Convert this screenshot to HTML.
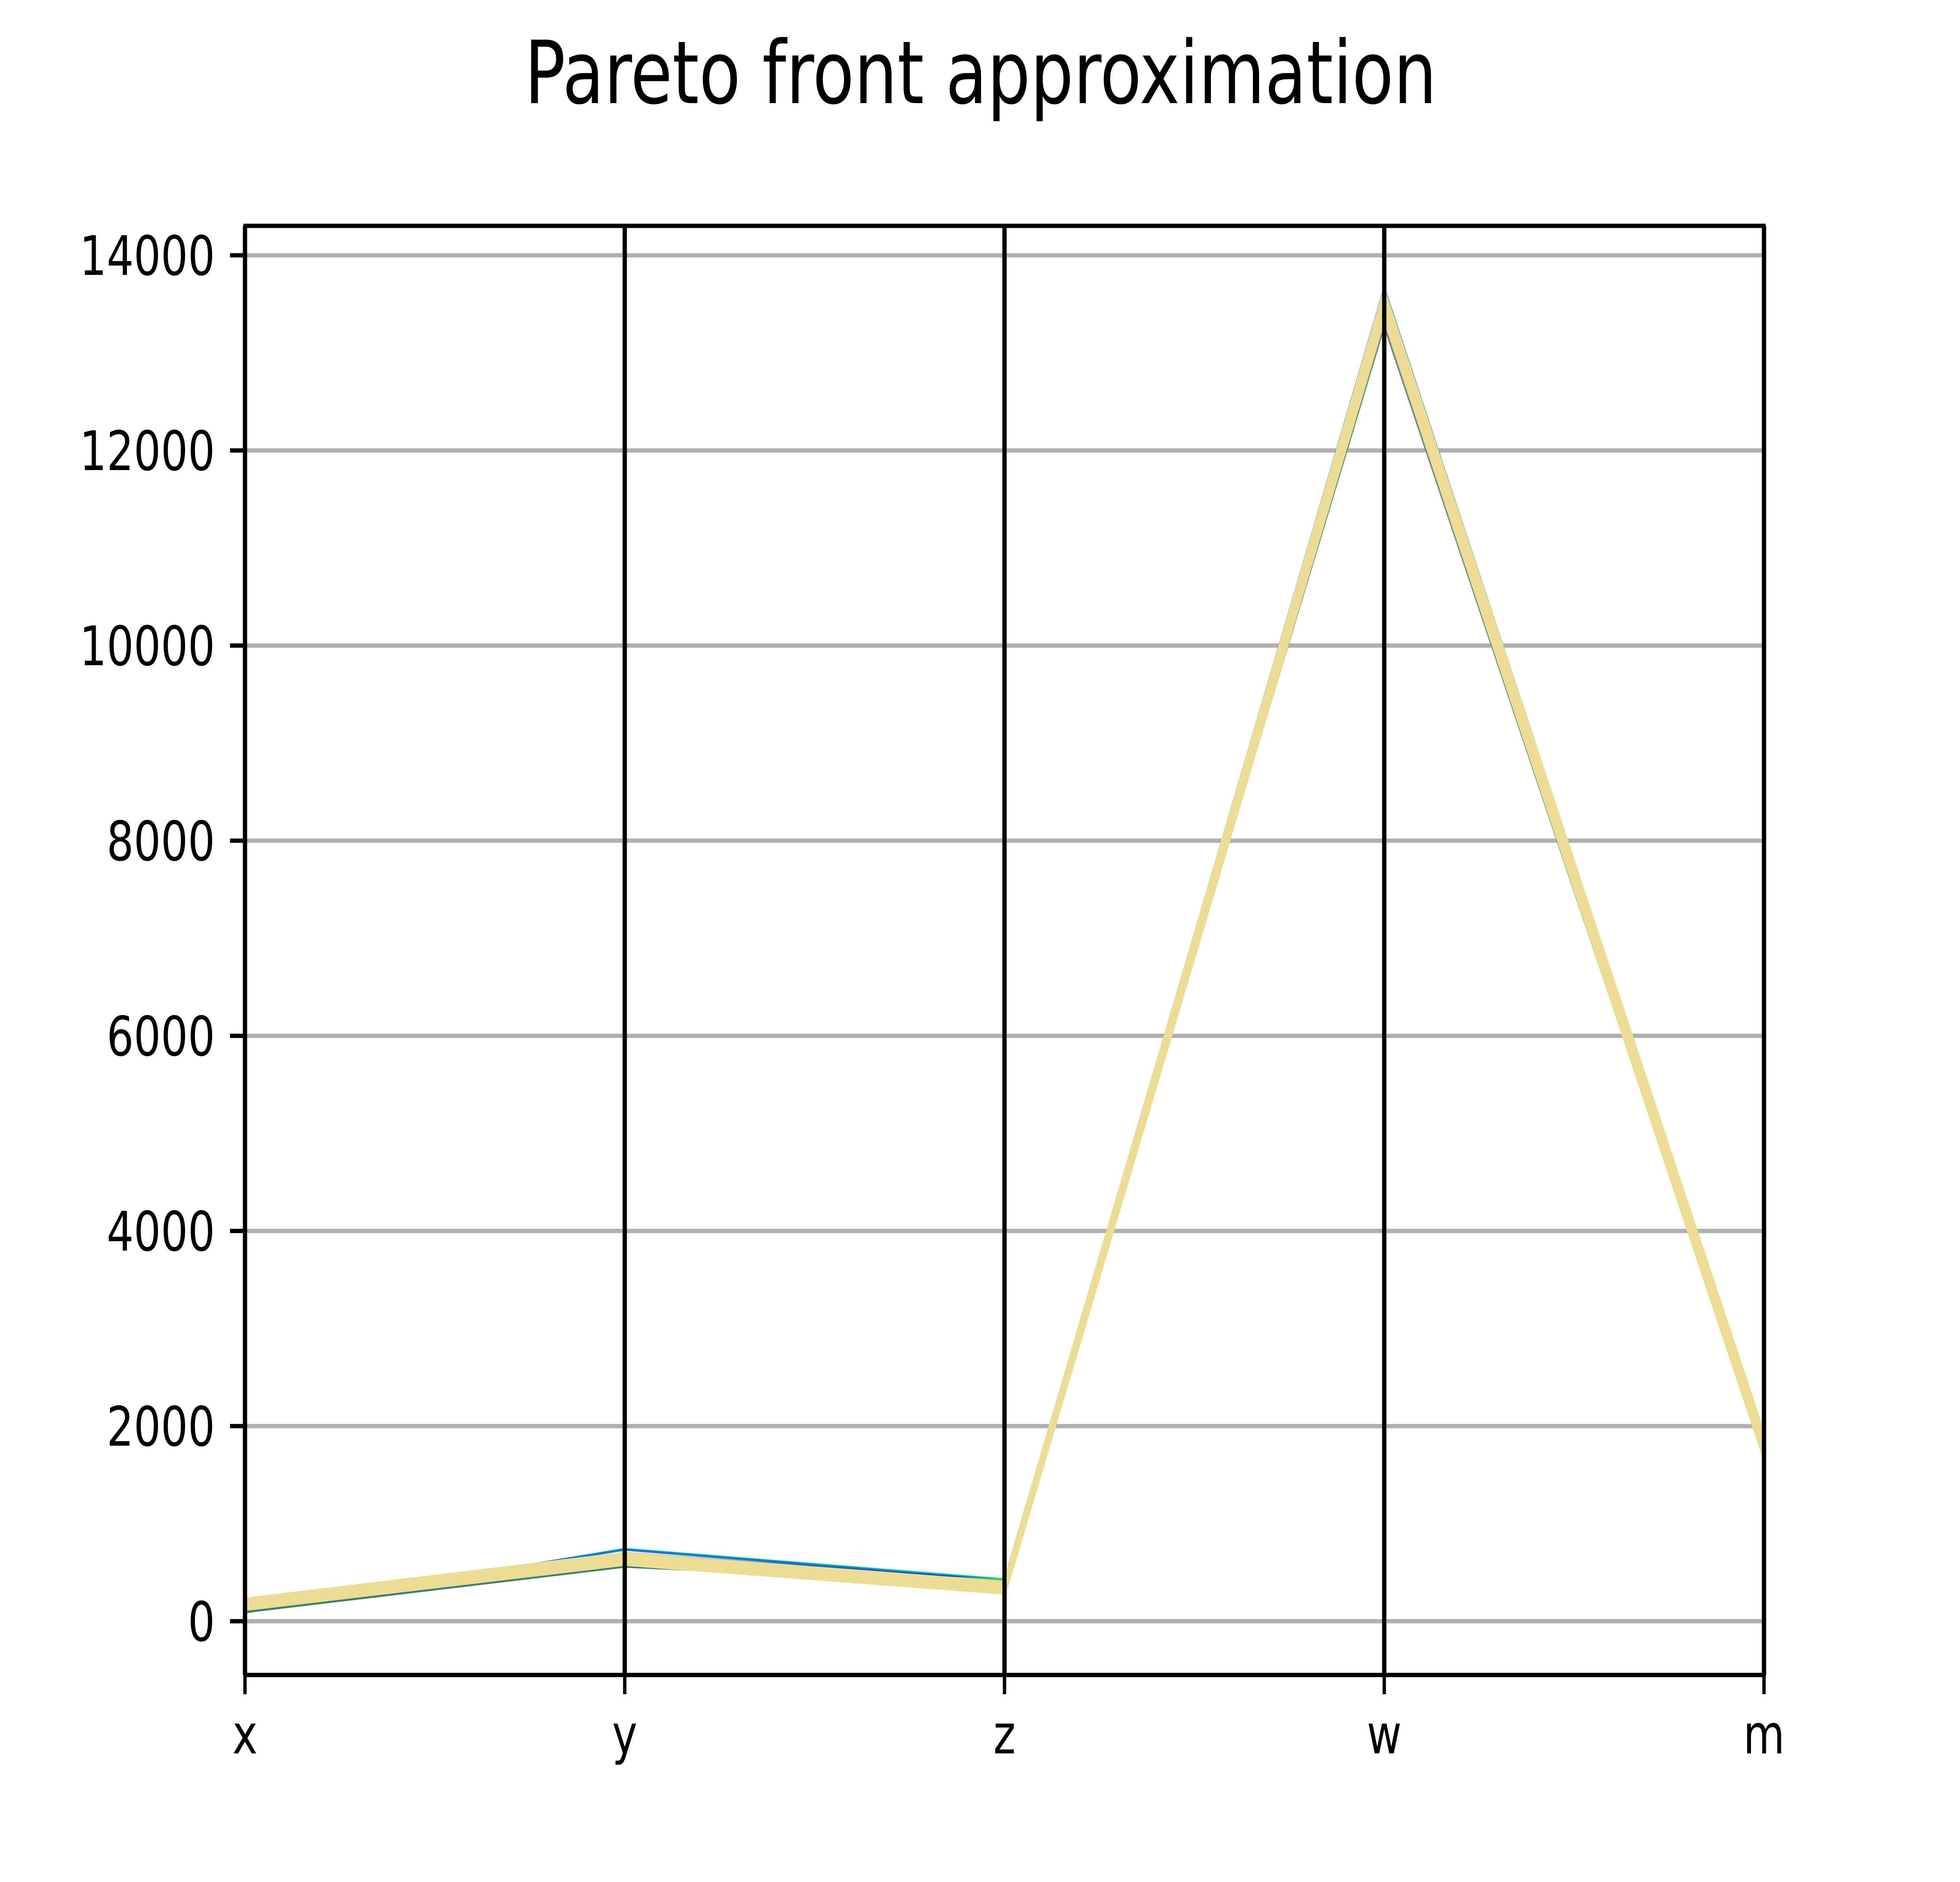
<!DOCTYPE html>
<html><head><meta charset="utf-8">
<style>
html,body{margin:0;padding:0;background:#fff;overflow:hidden;width:100%;height:100%;}
svg{display:block;width:100vw;height:100vh;}
text{font-family:"DejaVu Sans","Liberation Sans",sans-serif;fill:#000;}
</style></head>
<body>
<svg id="chart" viewBox="0 0 6400 4800" preserveAspectRatio="none" xmlns="http://www.w3.org/2000/svg">
<rect width="6400" height="4800" fill="#fff"/>
<text x="3202" y="263" font-size="222" text-anchor="middle">Pareto front approximation</text>
<g id="grid"></g>
<g id="series"></g>
<g id="axes"></g>
</svg>
<script>
const categories = ["x", "y", "z", "w", "m"];
const yTicks = [0, 2000, 4000, 6000, 8000, 10000, 12000, 14000];
const seriesColors = ["#20f090", "#0a7ad8", "#3a1a8c", "#3a8070", "#4ccf55", "#e030d0",
  "#ecdd95", "#ecdd95", "#ecdd95", "#ecdd95", "#ecdd95"];
const s1 = [90, 740, 430, 13640, 1900];
const s2 = [110, 735, 420, 13663, 1909];
const s3 = [120, 700, 410, 13610, 1890];
const s4 = [95, 560, 380, 13280, 1700];
const s5 = [140, 590, 420, 13300, 1700];
const s6 = [225, 580, 400, 13320, 1680];
const s7 = [213, 683, 386, 13607, 1890];
const s8 = [190, 660, 360, 13540, 1850];
const s9 = [170, 640, 340, 13480, 1800];
const s10 = [150, 615, 320, 13430, 1750];
const s11 = [133, 595, 301, 13378, 1700];
const seriesValues = [s1, s2, s3, s4, s5, s6, s7, s8, s9, s10, s11];

const NS = "http://www.w3.org/2000/svg";
const L = 800, R = 5760, T = 576, B = 4272;
const yMin = -551, yMax = 14302;
function xPos(i){ return L + (R - L) * i / (categories.length - 1); }
function yPos(v){ return B - (v - yMin) / (yMax - yMin) * (B - T); }
function mk(tag, attrs, parent){
  const e = document.createElementNS(NS, tag);
  for (const k in attrs) e.setAttribute(k, attrs[k]);
  parent.appendChild(e);
  return e;
}
const grid = document.getElementById("grid");
const series = document.getElementById("series");
const axes = document.getElementById("axes");

yTicks.forEach(t => {
  const y = yPos(t);
  const g = mk("line", {x1: L, x2: R, y1: y, y2: y, stroke: "#b0b0b0", "stroke-width": 11}, grid);
  
  
  const tk = mk("line", {x1: L - 49, x2: L, y1: y, y2: y, stroke: "#000", "stroke-width": 11}, axes);
  
  
  const lb = mk("text", {x: L - 98, y: y + 50, "font-size": 139, "text-anchor": "end"}, axes);
  lb.textContent = String(t);
  
  
});

seriesValues.forEach((vals, si) => {
  const pts = vals.map((v, i) => xPos(i) + "," + yPos(v)).join(" ");
  const isYellow = seriesColors[si] === "#ecdd95";
  const p = mk("polyline", {points: pts, fill: "none", stroke: seriesColors[si],
    "stroke-width": isYellow ? 14 : 6, "stroke-linejoin": "miter"}, series);
  
  
});

categories.forEach((c, i) => {
  const x = xPos(i);
  const v = mk("line", {x1: x, x2: x, y1: T, y2: B, stroke: "#000", "stroke-width": 14}, axes);
  
  
  const tk = mk("line", {x1: x, x2: x, y1: B, y2: B + 49, stroke: "#000", "stroke-width": 11}, axes);
  
  
  const lb = mk("text", {x: x, y: 4472, "font-size": 139, "text-anchor": "middle"}, axes);
  lb.textContent = c;
  
  
});

const frame = mk("rect", {x: L, y: T, width: R - L, height: B - T, fill: "none", stroke: "#000", "stroke-width": 11}, axes);


</script>
</body></html>
